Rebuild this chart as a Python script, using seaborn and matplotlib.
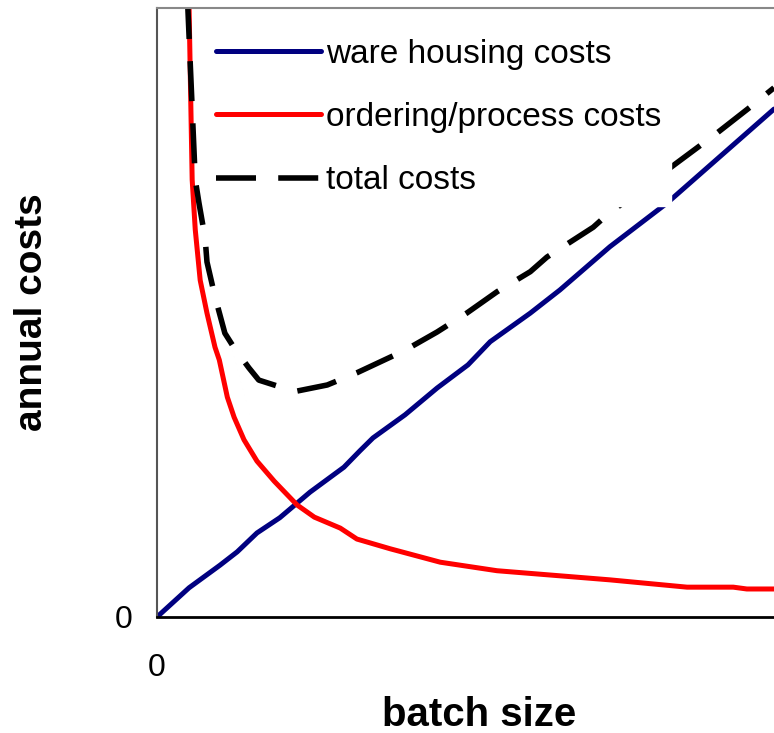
import matplotlib
matplotlib.use("Agg")
import matplotlib.pyplot as plt
import seaborn as sns

# values (x = batch size, y = annual costs, arbitrary units)
ware_x = [0, 5.2, 10.2, 13.0, 16.2, 19.9, 24.8, 30.3, 32.9, 35.0, 40.2, 45.4,
          50.4, 54.0, 60.5, 65.3, 73.4, 82.7, 100]
ware_y = [0, 4.8, 8.5, 10.7, 13.8, 16.3, 20.5, 24.6, 27.3, 29.4, 33.2, 37.6,
          41.4, 45.2, 49.9, 53.7, 60.8, 68.0, 83.4]

order_x = [4.5, 5.2, 5.7, 6.2, 7.0, 8.1, 9.4, 10.1, 11.4, 12.5, 14.1, 16.2,
           19.0, 22.7, 25.5, 29.7, 32.4, 37.8, 45.9, 55.1, 73.4, 85.9, 93.4,
           95.6, 100]
order_y = [120, 100, 71.8, 63.6, 55.3, 49.9, 44.3, 42.2, 36.1, 32.8, 29.1, 25.6,
           22.3, 18.4, 16.4, 14.6, 12.8, 11.2, 9.0, 7.6, 6.1, 4.9, 4.9,
           4.6, 4.6]

total_x = [4.6, 5.0, 6.2, 6.8, 7.8, 8.1, 9.4, 10.2, 11.0, 12.5, 14.9, 16.5,
           19.9, 22.7, 27.6, 32.4, 40.2, 45.4, 50.2, 55.1, 60.5, 63.2, 70.7,
           72.9, 82.7, 90.8, 96.1, 100]
total_y = [120, 100, 71.8, 68.0, 62.2, 58.3, 52.6, 49.6, 46.6, 44.2, 40.9, 38.9,
           37.8, 37.1, 38.1, 40.1, 43.8, 46.8, 49.9, 53.4, 56.7, 59.1, 64.0,
           66.0, 73.4, 79.5, 83.7, 86.9]

labels = ["ware housing costs", "ordering/process costs", "total costs"]

sns.set_style("white")
plt.rcParams["font.family"] = ["Liberation Sans", "DejaVu Sans"]
plt.rcParams["text.color"] = "black"
plt.rcParams["axes.labelcolor"] = "black"
plt.rcParams["xtick.color"] = "black"
plt.rcParams["ytick.color"] = "black"

fig = plt.figure(figsize=(7.74, 7.33), dpi=100)
ax = fig.add_axes([157 / 774, 116 / 733, 617 * 1.05 / 774, 609 / 733])

sns.lineplot(x=ware_x, y=ware_y, color="#000080", linewidth=3.6,
             estimator=None, label=labels[0], ax=ax)
sns.lineplot(x=order_x, y=order_y, color="#ff0000", linewidth=3.6,
             estimator=None, label=labels[1], ax=ax)
sns.lineplot(x=total_x, y=total_y, color="black", linewidth=4.0,
             estimator=None, label=labels[2], ax=ax)
ax.lines[-1].set_dashes((7.2, 4.0))

ax.set_xlim(0, 105)
ax.set_ylim(0, 100)
ax.set_xticks([0])
ax.set_yticks([0])
ax.set_xticklabels(["0"], fontsize=23)
ax.set_yticklabels(["0"], fontsize=23)
ax.tick_params(axis="x", direction="out", length=8, width=1.5, pad=18)
ax.tick_params(axis="y", direction="out", length=8, width=1.5, pad=10)

ax.spines["left"].set_color("#555555")
ax.spines["left"].set_linewidth(1.5)
ax.spines["bottom"].set_color("black")
ax.spines["bottom"].set_linewidth(2)
ax.spines["top"].set_color("#888888")
ax.spines["top"].set_linewidth(1.5)
ax.spines["right"].set_visible(False)

ax.set_xlabel("batch size", fontsize=29, fontweight="bold")
ax.set_ylabel("annual costs", fontsize=28, fontweight="bold")
ax.xaxis.set_label_coords(0.497, -0.13)
ax.yaxis.set_label_coords(-0.165, 0.5)

leg = ax.legend(loc="upper left", bbox_to_anchor=(0.075, 0.966), borderaxespad=0,
                fontsize=24, frameon=True, handlelength=3.15, handletextpad=0.15,
                labelspacing=0.97, borderpad=0.3, fancybox=False)
leg.get_frame().set_edgecolor("white")
leg.get_frame().set_facecolor("white")
leg.get_frame().set_alpha(1)

fig.savefig("out.png", dpi=100)
